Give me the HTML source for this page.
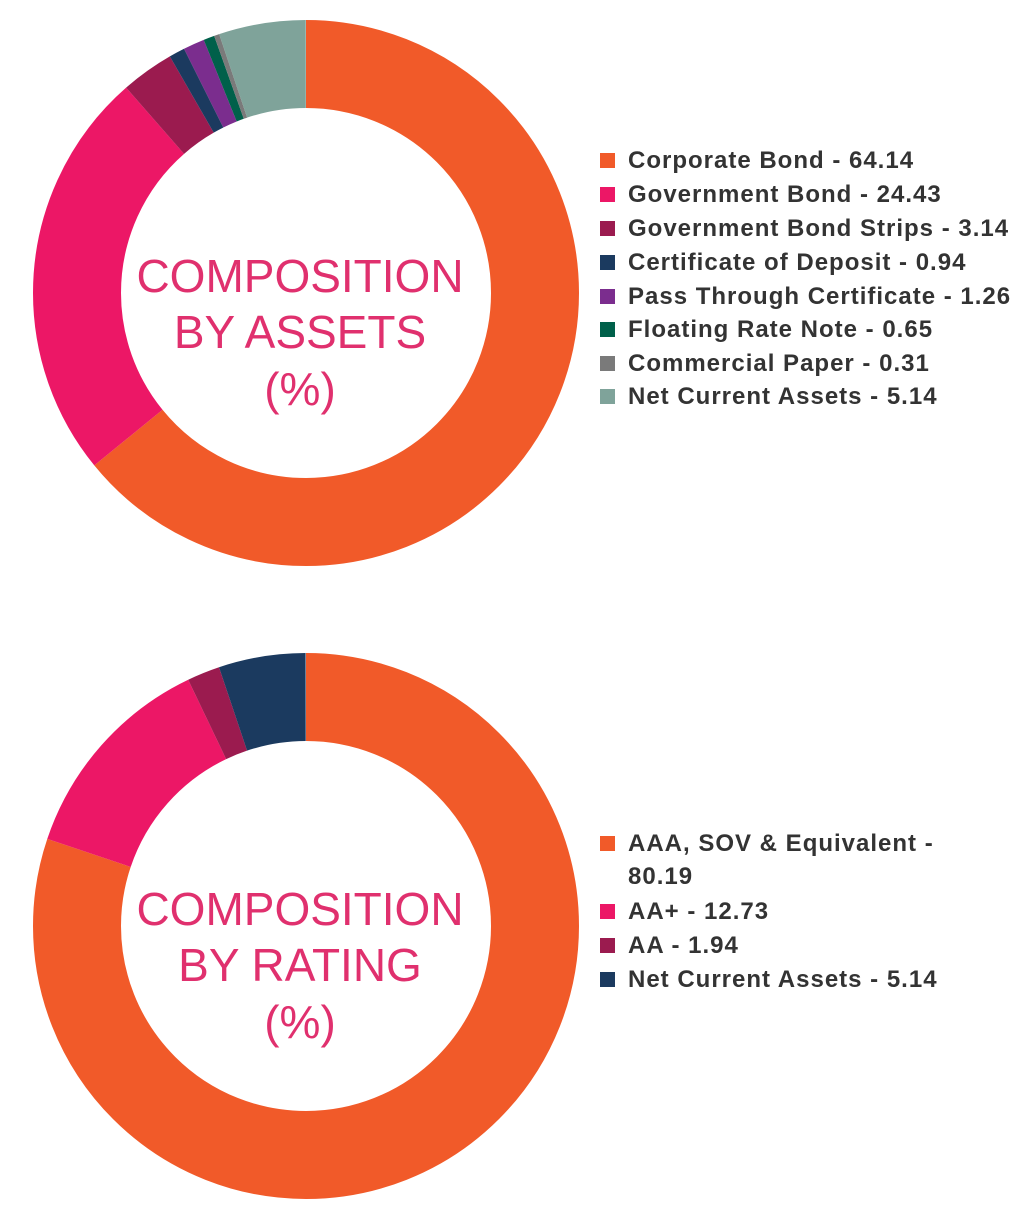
<!DOCTYPE html>
<html><head><meta charset="utf-8"><style>
body{margin:0;background:#fff;width:1035px;height:1226px;overflow:hidden}
svg{display:block}
.l{font-family:"Liberation Sans",sans-serif;font-weight:bold;font-size:24px;letter-spacing:1px;fill:#333}
.c{font-family:"Liberation Sans",sans-serif;font-size:46px;fill:#E0306E;text-anchor:middle}
</style></head><body>
<svg width="1035" height="1226" viewBox="0 0 1035 1226">
<g transform="rotate(-90 306 293)" fill="none" stroke-width="88">
<circle cx="306" cy="293" r="229" pathLength="100" stroke="#F15A29" stroke-dasharray="64.14 100" stroke-dashoffset="0"/>
<circle cx="306" cy="293" r="229" pathLength="100" stroke="#EC1766" stroke-dasharray="24.43 100" stroke-dashoffset="-64.14"/>
<circle cx="306" cy="293" r="229" pathLength="100" stroke="#9B1B4F" stroke-dasharray="3.14 100" stroke-dashoffset="-88.57"/>
<circle cx="306" cy="293" r="229" pathLength="100" stroke="#1B3A5F" stroke-dasharray="0.94 100" stroke-dashoffset="-91.71"/>
<circle cx="306" cy="293" r="229" pathLength="100" stroke="#7B2D8E" stroke-dasharray="1.26 100" stroke-dashoffset="-92.65"/>
<circle cx="306" cy="293" r="229" pathLength="100" stroke="#00604A" stroke-dasharray="0.65 100" stroke-dashoffset="-93.91"/>
<circle cx="306" cy="293" r="229" pathLength="100" stroke="#7A7A7A" stroke-dasharray="0.31 100" stroke-dashoffset="-94.56"/>
<circle cx="306" cy="293" r="229" pathLength="100" stroke="#7FA39A" stroke-dasharray="5.14 100" stroke-dashoffset="-94.87"/>
</g>
<g transform="rotate(-90 306 926)" fill="none" stroke-width="88">
<circle cx="306" cy="926" r="229" pathLength="100" stroke="#F15A29" stroke-dasharray="80.19 100" stroke-dashoffset="0"/>
<circle cx="306" cy="926" r="229" pathLength="100" stroke="#EC1766" stroke-dasharray="12.73 100" stroke-dashoffset="-80.19"/>
<circle cx="306" cy="926" r="229" pathLength="100" stroke="#9B1B4F" stroke-dasharray="1.94 100" stroke-dashoffset="-92.92"/>
<circle cx="306" cy="926" r="229" pathLength="100" stroke="#1B3A5F" stroke-dasharray="5.14 100" stroke-dashoffset="-94.86"/>
</g>
<text class="c" x="300" y="292">COMPOSITION</text>
<text class="c" x="300" y="348">BY ASSETS</text>
<text class="c" x="300" y="405">(%)</text>
<text class="c" x="300" y="925">COMPOSITION</text>
<text class="c" x="300" y="981">BY RATING</text>
<text class="c" x="300" y="1038">(%)</text>
<g>
<rect x="600" y="153" width="15" height="15" fill="#F15A29"/><text class="l" x="628" y="168">Corporate Bond - 64.14</text>
<rect x="600" y="187" width="15" height="15" fill="#EC1766"/><text class="l" x="628" y="202">Government Bond - 24.43</text>
<rect x="600" y="221" width="15" height="15" fill="#9B1B4F"/><text class="l" x="628" y="236">Government Bond Strips - 3.14</text>
<rect x="600" y="255" width="15" height="15" fill="#1B3A5F"/><text class="l" x="628" y="270">Certificate of Deposit - 0.94</text>
<rect x="600" y="289" width="15" height="15" fill="#7B2D8E"/><text class="l" x="628" y="304">Pass Through Certificate - 1.26</text>
<rect x="600" y="322" width="15" height="15" fill="#00604A"/><text class="l" x="628" y="337">Floating Rate Note - 0.65</text>
<rect x="600" y="356" width="15" height="15" fill="#7A7A7A"/><text class="l" x="628" y="371">Commercial Paper - 0.31</text>
<rect x="600" y="389" width="15" height="15" fill="#7FA39A"/><text class="l" x="628" y="404">Net Current Assets - 5.14</text>
<rect x="600" y="836" width="15" height="15" fill="#F15A29"/><text class="l" x="628" y="851">AAA, SOV &amp; Equivalent -</text>
<text class="l" x="628" y="884">80.19</text>
<rect x="600" y="904" width="15" height="15" fill="#EC1766"/><text class="l" x="628" y="919">AA+ - 12.73</text>
<rect x="600" y="938" width="15" height="15" fill="#9B1B4F"/><text class="l" x="628" y="953">AA - 1.94</text>
<rect x="600" y="972" width="15" height="15" fill="#1B3A5F"/><text class="l" x="628" y="987">Net Current Assets - 5.14</text>
</g>
</svg>
</body></html>
